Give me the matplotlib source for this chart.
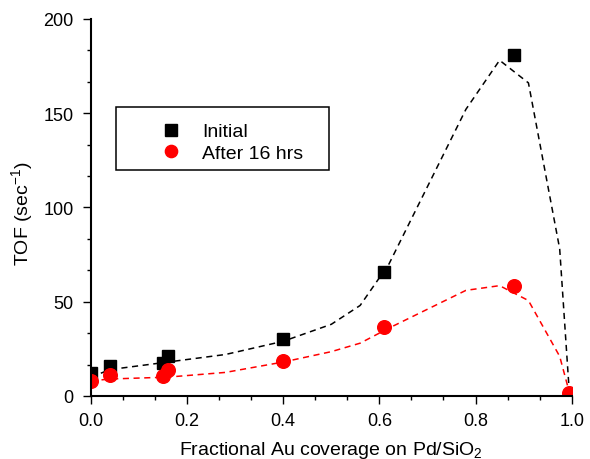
import matplotlib
matplotlib.use("Agg")
import matplotlib.pyplot as plt
from matplotlib.ticker import MultipleLocator
from matplotlib.patches import Rectangle

plt.rcParams['font.family'] = ['Liberation Sans', 'DejaVu Sans']
plt.rcParams['mathtext.fontset'] = 'custom'
plt.rcParams['mathtext.rm'] = 'Liberation Sans'
plt.rcParams['mathtext.it'] = 'Liberation Sans'

# measured points
x_init = [0.0, 0.04, 0.15, 0.16, 0.40, 0.61, 0.88]
y_init = [12, 16, 17.5, 21, 30, 66, 181]
x_after = [0.0, 0.04, 0.15, 0.16, 0.40, 0.61, 0.88, 0.995]
y_after = [8, 11, 10.8, 13.8, 18.5, 36.4, 58.5, 1.5]

# fitted (dashed) curves
x_fit = [0.0, 0.04, 0.16, 0.28, 0.40, 0.50, 0.56, 0.62, 0.78, 0.85, 0.91, 0.975, 0.995]
y_fit_init = [10, 14, 18, 22, 29, 38, 48, 70, 152, 178, 166, 78, 2]
y_fit_after = [8, 9, 10, 12.5, 18, 23.5, 28, 36, 56, 58.5, 50.6, 21, 2]

fig = plt.figure(figsize=(5.9, 4.6), dpi=100)
ax = fig.add_axes([0.154, 0.137, 0.815, 0.82])

ax.plot(x_fit, y_fit_init, color='black', ls=(0, (4, 3)), lw=1.1)
ax.plot(x_fit, y_fit_after, color='red', ls=(0, (4, 3)), lw=1.1)
ax.plot(x_init, y_init, 's', color='black', ms=9.3, label='Initial')
ax.plot(x_after, y_after, 'o', color='red', ms=9.8, label='After 16 hrs')

ax.set_xlim(0, 1.0)
ax.set_ylim(0, 200)
ax.xaxis.set_major_locator(MultipleLocator(0.2))
ax.xaxis.set_minor_locator(MultipleLocator(0.2 / 3))
ax.yaxis.set_major_locator(MultipleLocator(50))
ax.yaxis.set_minor_locator(MultipleLocator(50 / 3))
ax.tick_params(which='major', direction='out', length=5.5, width=1, labelsize=13)
ax.tick_params(which='minor', direction='out', length=3, width=1)
ax.tick_params(axis='x', which='major', pad=6)
ax.tick_params(axis='y', which='major', pad=7)
for s in ['top', 'right']:
    ax.spines[s].set_visible(False)
for s in ['left', 'bottom']:
    ax.spines[s].set_linewidth(1.5)

ax.set_xlabel('Fractional Au coverage on Pd/SiO$_2$', fontsize=14, labelpad=7)
ax.set_ylabel('TOF (sec$^{-1}$)', fontsize=14, labelpad=6, y=0.485)

ax.add_patch(Rectangle((0.052, 120), 0.443, 33, fill=False, ec='black', lw=1.1, zorder=5))
ax.legend(loc='center left', bbox_to_anchor=(0.146, 134.5), bbox_transform=ax.transData,
          frameon=False, borderpad=0, handlelength=1.0, handletextpad=1.1,
          labelspacing=0.2, fontsize=14, borderaxespad=0, markerscale=0.9)

fig.savefig('out.png', dpi=100)
